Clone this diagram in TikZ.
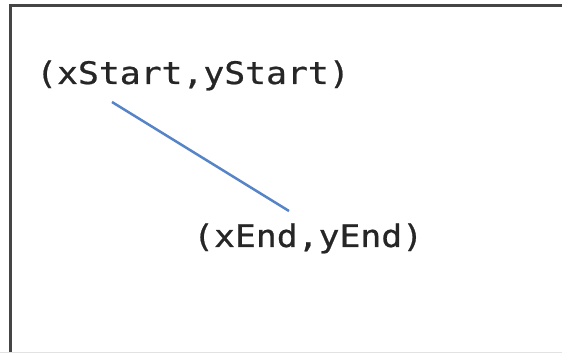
\documentclass[tikz,border=0pt]{standalone}
\usepackage{fontspec}
\newfontfamily\codefont[FakeStretch=1.12,FakeBold=0.7]{DejaVu Sans Mono}
\definecolor{framegray}{HTML}{454545}
\definecolor{edgegray}{HTML}{E2E2E2}
\definecolor{lineblue}{HTML}{5585C8}
\definecolor{codeink}{HTML}{262626}
\tikzset{
  coordlabel/.style={anchor=base west, inner sep=0pt, text=codeink,
    font=\codefont\fontsize{31pt}{33pt}\selectfont},
  segment/.style={draw=lineblue, line width=2.5pt},
}
\begin{document}
\begin{tikzpicture}[x=1pt,y=1pt]
  \useasboundingbox (0,0) rectangle (562,353);
  \fill[white] (0,0) rectangle (562,353);
  % frame: left and top edges, running off the page
  \draw[framegray, line width=2.6pt] (10.5,-5) -- (10.5,347.5) -- (570,347.5);
  \draw[edgegray, line width=1pt] (0,0.5) -- (562,0.5);
  % labels
  \node[coordlabel] (startlbl) at (36,269) {(xStart,yStart)};
  \node[coordlabel] (endlbl) at (193,106) {(xEnd,yEnd)};
  % segment between the two points
  \coordinate (s) at (112,251);
  \coordinate (e) at (289,142);
  \draw[segment] (s) -- (e);
\end{tikzpicture}
\end{document}
